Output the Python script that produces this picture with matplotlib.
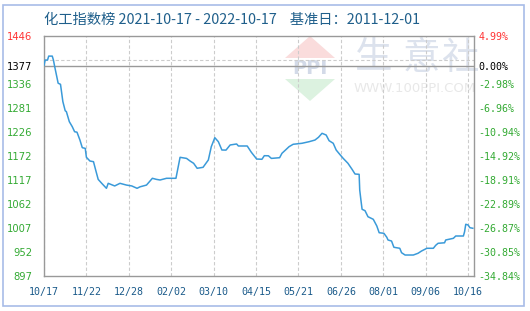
import matplotlib
matplotlib.use("Agg")
import matplotlib.pyplot as plt
import matplotlib.patches as mpatches
import numpy as np

# days since 2021-10-17, index value
days = [0, 1, 3, 4, 7, 8, 9, 12, 14, 15, 16, 18, 19, 21.5, 24, 26, 28, 30.5, 32.5, 35,
        36, 39, 42, 44, 46, 49, 53, 54.5, 60, 64.5, 70, 74.5, 79, 81.5, 87, 92, 95.5,
        98.5, 104, 112, 115.5, 121, 124, 127, 130, 135, 139.5, 142, 145, 148, 151,
        154.5, 158, 163.5, 165, 172.5, 176, 180.5, 185, 187, 190.5, 193, 200, 202, 205,
        208, 211.5, 219, 225, 230, 233, 236, 239.5, 242, 245.5, 248, 251, 254, 258,
        261.5, 264, 267.5, 268, 269, 270, 272.5, 275, 279.5, 282.5, 284.5, 288.5, 291,
        292, 295, 297, 302, 303.5, 306.5, 313.5, 317.5, 320.5, 325, 330.5, 332.5,
        334.5, 340, 341, 347.5, 349.5, 356, 357, 358, 360, 361.5, 364]
index = [1379, 1391, 1391, 1400, 1400, 1391, 1377, 1338, 1335.5, 1316, 1296, 1275, 1273,
         1250, 1238.5, 1227, 1226, 1208, 1190.5, 1189, 1168.5, 1160, 1158.5, 1138, 1118,
         1109, 1097.6, 1109, 1103, 1109, 1105, 1103, 1097.6, 1101, 1105, 1120.5, 1118,
         1116.6, 1120.5, 1120.5, 1168.5, 1166, 1160, 1154.8, 1143.4, 1145.6, 1162.4,
         1192.8, 1213.4, 1204.2, 1185.2, 1185, 1196.7, 1199, 1194.4, 1194.4, 1180,
         1164.6, 1164, 1172.2, 1172, 1166, 1167.6, 1177.7, 1185.2, 1192.8, 1198.3,
         1200.6, 1204.2, 1208, 1214.3, 1223.4, 1219.5, 1206.5, 1200.6, 1185.2, 1175.4,
         1166, 1154.8, 1141, 1130.3, 1129.6, 1093.7, 1070.9, 1049.6, 1046.4, 1032.6,
         1026.7, 1011.4, 996, 994.7, 985.5, 979.4, 977, 962.7, 960.4, 950.3, 945, 945,
         949, 954.2, 960.4, 960.4, 967.2, 971.8, 973, 979.4, 983.2, 988.5, 988.5, 998.3,
         1015.3, 1013.7, 1007.5, 1006.2]

x_ticks = [0, 36, 72, 108, 144, 180, 216, 252, 288, 324, 360]
x_labels = ["10/17", "11/22", "12/28", "02/02", "03/10", "04/15", "05/21",
            "06/26", "08/01", "09/06", "10/16"]

base = 1377
y_min, y_max = 897, 1446
grid_vals = np.linspace(y_min, y_max, 11)
left_vals = list(grid_vals[:9]) + [base, y_max]
left_labels = ["897", "952", "1007", "1062", "1117", "1172", "1226", "1281",
               "1336", "1377", "1446"]
right_labels = ["-34.84%", "-30.85%", "-26.87%", "-22.89%", "-18.91%", "-14.92%",
                "-10.94%", "-6.96%", "-2.98%", "0.00%", "4.99%"]

W, H = 530, 311
fig = plt.figure(figsize=(W / 100, H / 100), dpi=100)


def fx(px):
    return px / W


def fy(py):
    return 1 - py / H


ax = fig.add_axes([fx(44), fy(276), fx(474) - fx(44), fy(36) - fy(276)])
ax.set_facecolor("none")

# watermark behind the axes
fig.patches.append(mpatches.Polygon([[fx(285), fy(58)], [fx(335), fy(58)], [fx(310), fy(36)]],
                                    closed=True, transform=fig.transFigure,
                                    facecolor="#fadcdc", edgecolor="none", zorder=-2))
fig.patches.append(mpatches.Polygon([[fx(285), fy(79)], [fx(335), fy(79)], [fx(310), fy(101)]],
                                    closed=True, transform=fig.transFigure,
                                    facecolor="#dcf2e0", edgecolor="none", zorder=-2))
fig.text(fx(310), fy(68), "PPI", ha="center", va="center", fontsize=14,
         fontweight="bold", color="#d3dae8", zorder=-1)
for cx, ch in zip([374, 421, 461], "生意社"):
    fig.text(fx(cx), fy(58), ch, ha="center", va="center", fontsize=27,
             family=["Noto Sans CJK SC"], color="#dce2ed", zorder=-1)
fig.text(fx(415), fy(89), "WWW.100PPI.COM", ha="center", va="center", fontsize=9.5,
         color="#e8e8e8", zorder=-1)

ax.plot(days, index, color="#3a9ad9", linewidth=1.1, zorder=3)
ax.axhline(base, color="#999999", linewidth=1.0, zorder=2)

ax.set_xlim(0, 365)
ax.set_ylim(y_min, y_max)

ax.set_xticks(x_ticks)
ax.set_xticklabels(x_labels, family="DejaVu Sans Mono", fontsize=7.2, color="#1a5a8a")
ax.set_yticks(left_vals)
ax.set_yticklabels(left_labels, fontsize=7.2)
for lbl, v in zip(ax.get_yticklabels(), left_vals):
    lbl.set_color("#ff3333" if v == y_max else ("black" if v == base else "#33aa33"))
ax.set_yticks(grid_vals, minor=True)
ax.tick_params(axis="both", which="both", length=0)
ax.tick_params(axis="y", pad=8.5)
ax.tick_params(axis="x", pad=8)

ax.grid(True, axis="x", which="major", color="#cccccc", linestyle=(0, (3, 2)), linewidth=0.8)
ax.grid(True, axis="y", which="minor", color="#cccccc", linestyle=(0, (3, 2)), linewidth=0.8)
for s in ax.spines.values():
    s.set_color("#999999")
    s.set_linewidth(1.0)

ax2 = ax.twinx()
ax2.set_ylim(y_min, y_max)
ax2.set_yticks(left_vals)
ax2.set_yticklabels(right_labels, family="DejaVu Sans Mono", fontsize=7.2)
for lbl, v in zip(ax2.get_yticklabels(), left_vals):
    lbl.set_color("#ff3333" if v == y_max else ("black" if v == base else "#33aa33"))
ax2.tick_params(axis="y", length=0, pad=3)
for s in ax2.spines.values():
    s.set_visible(False)

fig.text(fx(44), fy(20), "化工指数榜 2021-10-17 - 2022-10-17    基准日：2011-12-01",
         ha="left", va="center", fontsize=10.3, color="#1f5f8b",
         family=["Noto Sans CJK SC", "DejaVu Sans"])

fig.patches.append(mpatches.Rectangle((fx(3), fy(306)), fx(521), fy(5) - fy(306),
                                      transform=fig.transFigure, fill=False,
                                      edgecolor="#a8bce8", linewidth=1.2))

fig.savefig("out.png", dpi=100)
